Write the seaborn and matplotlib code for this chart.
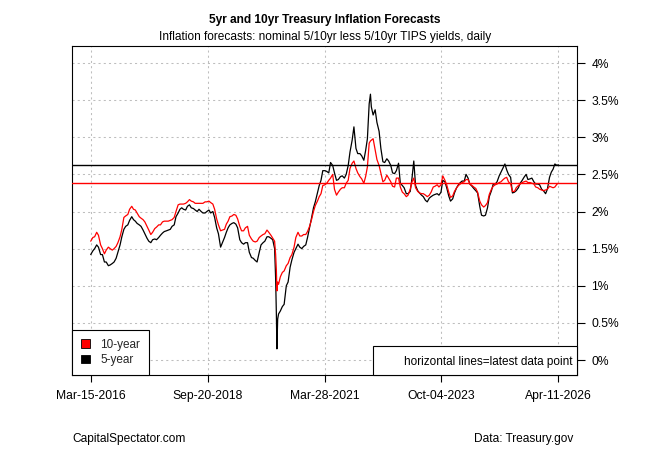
import numpy as np
import pandas as pd
import matplotlib
matplotlib.use("Agg")
import matplotlib.pyplot as plt
import matplotlib.dates as mdates
from matplotlib.patches import Patch, Rectangle
import seaborn as sns

# ---------------- data ----------------
start_date = "2016-03-15"
end_date = "2026-04-11"

# readings on the 15th of each month, Mar-2016 .. Mar-2026 (121 values)
ten_year_mid = [
    1.60, 1.66, 1.68, 1.50, 1.48, 1.50, 1.50, 1.58, 1.76, 1.94,
    2.03, 2.03, 1.98, 1.91, 1.86, 1.75, 1.72, 1.79, 1.82, 1.87,
    1.87, 1.89, 2.00, 2.10, 2.10, 2.13, 2.14, 2.11, 2.11, 2.11,
    2.13, 2.12, 2.03, 1.82, 1.75, 1.83, 1.93, 1.96, 1.90, 1.74,
    1.78, 1.68, 1.60, 1.60, 1.67, 1.70, 1.72, 1.64, 1.20, 1.12,
    1.20, 1.30, 1.42, 1.65, 1.67, 1.69, 1.73, 1.88, 2.08, 2.20,
    2.35, 2.38, 2.45, 2.30, 2.26, 2.32, 2.38, 2.58, 2.68, 2.52,
    2.44, 2.47, 2.92, 2.98, 2.70, 2.52, 2.42, 2.45, 2.34, 2.45,
    2.33, 2.24, 2.22, 2.40, 2.32, 2.25, 2.24, 2.20, 2.26, 2.34,
    2.33, 2.48, 2.36, 2.19, 2.27, 2.35, 2.39, 2.43, 2.37, 2.33,
    2.26, 2.09, 2.08, 2.23, 2.34, 2.37, 2.40, 2.45, 2.40, 2.27,
    2.32, 2.37, 2.40, 2.39, 2.38, 2.33, 2.30, 2.28, 2.30, 2.33,
    2.33,
]
five_year_mid = [
    1.42, 1.50, 1.52, 1.42, 1.32, 1.28, 1.32, 1.45, 1.66, 1.80,
    1.88, 1.89, 1.84, 1.80, 1.70, 1.60, 1.62, 1.62, 1.68, 1.73,
    1.75, 1.80, 1.93, 2.03, 2.03, 2.07, 2.05, 2.02, 2.03, 1.98,
    2.00, 1.98, 1.92, 1.70, 1.58, 1.72, 1.82, 1.85, 1.78, 1.58,
    1.58, 1.45, 1.37, 1.32, 1.55, 1.60, 1.66, 1.62, 0.60, 0.66,
    0.75, 1.05, 1.35, 1.50, 1.52, 1.53, 1.65, 1.90, 2.13, 2.35,
    2.55, 2.54, 2.66, 2.52, 2.43, 2.48, 2.50, 2.80, 3.14, 2.78,
    2.75, 2.82, 3.45, 3.30, 3.20, 2.85, 2.66, 2.68, 2.52, 2.55,
    2.38, 2.32, 2.24, 2.45, 2.35, 2.25, 2.20, 2.13, 2.20, 2.23,
    2.22, 2.42, 2.32, 2.14, 2.25, 2.36, 2.41, 2.50, 2.37, 2.31,
    2.25, 1.95, 1.95, 2.20, 2.37, 2.40, 2.53, 2.64, 2.50, 2.25,
    2.28, 2.38, 2.46, 2.43, 2.45, 2.37, 2.36, 2.28, 2.30, 2.53,
    2.64,
]

# readings on the 1st of each month, Apr-2016 .. Apr-2026 (121 values)
ten_year_first = [
    1.65, 1.72, 1.55, 1.43, 1.52, 1.48, 1.53, 1.66, 1.92, 1.96,
    2.07, 2.02, 1.93, 1.89, 1.80, 1.69, 1.77, 1.82, 1.86, 1.87,
    1.88, 1.92, 2.09, 2.10, 2.11, 2.16, 2.13, 2.11, 2.11, 2.13,
    2.14, 2.10, 1.90, 1.74, 1.76, 1.87, 1.94, 1.95, 1.80, 1.74,
    1.80, 1.63, 1.59, 1.65, 1.69, 1.75, 1.68, 1.60, 1.02, 1.18,
    1.27, 1.38, 1.52, 1.72, 1.67, 1.69, 1.80, 2.00, 2.14, 2.24,
    2.36, 2.42, 2.50, 2.22, 2.30, 2.32, 2.42, 2.65, 2.58, 2.47,
    2.38, 2.60, 2.96, 2.83, 2.62, 2.40, 2.49, 2.40, 2.33, 2.45,
    2.26, 2.20, 2.30, 2.45, 2.27, 2.24, 2.22, 2.22, 2.33, 2.36,
    2.36, 2.42, 2.26, 2.21, 2.32, 2.37, 2.40, 2.43, 2.35, 2.31,
    2.14, 2.06, 2.12, 2.30, 2.36, 2.39, 2.43, 2.46, 2.37, 2.27,
    2.35, 2.39, 2.41, 2.39, 2.37, 2.32, 2.29, 2.29, 2.34, 2.32,
    2.37,
]
five_year_first = [
    1.47, 1.55, 1.42, 1.32, 1.27, 1.30, 1.37, 1.55, 1.76, 1.82,
    1.93, 1.87, 1.82, 1.75, 1.64, 1.58, 1.63, 1.65, 1.71, 1.74,
    1.76, 1.82, 1.98, 2.05, 2.02, 2.09, 2.04, 2.00, 2.00, 1.98,
    2.02, 2.00, 1.78, 1.52, 1.65, 1.78, 1.84, 1.83, 1.62, 1.56,
    1.58, 1.38, 1.34, 1.45, 1.58, 1.66, 1.64, 1.50, 0.62, 0.72,
    1.00, 1.25, 1.45, 1.56, 1.50, 1.55, 1.78, 2.05, 2.25, 2.42,
    2.55, 2.52, 2.62, 2.42, 2.47, 2.45, 2.62, 2.96, 2.85, 2.78,
    2.69, 2.98, 3.41, 3.37, 3.08, 2.67, 2.71, 2.62, 2.51, 2.65,
    2.35, 2.24, 2.27, 2.68, 2.28, 2.22, 2.15, 2.18, 2.22, 2.24,
    2.26, 2.40, 2.21, 2.17, 2.32, 2.39, 2.41, 2.45, 2.34, 2.28,
    2.07, 1.94, 2.05, 2.28, 2.37, 2.48, 2.59, 2.56, 2.46, 2.26,
    2.32, 2.42, 2.50, 2.44, 2.40, 2.37, 2.30, 2.24, 2.46, 2.57,
    2.62,
]

# extra readings at sharp turning points and the latest data point
extra_dates = ["2020-03-09", "2020-03-19", "2020-03-25", "2022-03-25", end_date]
extra_ten = [1.42, 0.93, 1.05, 2.95, 2.38]
extra_five = [1.10, 0.15, 0.55, 3.58, 2.63]

x_tick_labels = ["Mar-15-2016", "Sep-20-2018", "Mar-28-2021", "Oct-04-2023", "Apr-11-2026"]
y_ticks = [0, 0.5, 1, 1.5, 2, 2.5, 3, 3.5, 4]
y_tick_labels = ["0%", "0.5%", "1%", "1.5%", "2%", "2.5%", "3%", "3.5%", "4%"]

title = "5yr and 10yr Treasury Inflation Forecasts"
subtitle = "Inflation forecasts: nominal 5/10yr less 5/10yr TIPS yields, daily"

# ---------------- build table ----------------
mid_dates = pd.date_range(start_date, periods=len(ten_year_mid),
                          freq=pd.DateOffset(months=1))
first_dates = pd.date_range("2016-04-01", periods=len(ten_year_first), freq="MS")
df = pd.concat([
    pd.DataFrame({"date": mid_dates, "ten": ten_year_mid, "five": five_year_mid}),
    pd.DataFrame({"date": first_dates, "ten": ten_year_first, "five": five_year_first}),
    pd.DataFrame({"date": pd.to_datetime(extra_dates), "ten": extra_ten, "five": extra_five}),
]).sort_values("date").reset_index(drop=True)

# ---------------- style ----------------
sns.set_theme(style="white")
plt.rcParams["font.family"] = ["Liberation Sans", "DejaVu Sans"]
plt.rcParams["axes.edgecolor"] = "black"
plt.rcParams["axes.linewidth"] = 0.8

fig = plt.figure(figsize=(6.5, 4.5), dpi=100)
fig.patch.set_facecolor("white")
ax = fig.add_axes([72 / 650, 1 - 375 / 450, 505 / 650, 329 / 450])

sns.lineplot(data=df, x="date", y="five", color="black", lw=0.9, ax=ax,
             legend=False, zorder=3)
sns.lineplot(data=df, x="date", y="ten", color="red", lw=0.9, ax=ax,
             legend=False, zorder=4)

last_five = df["five"].iloc[-1]
last_ten = df["ten"].iloc[-1]
ax.axhline(last_five, color="black", lw=1.0, zorder=5)
ax.axhline(last_ten, color="#FF0000", lw=1.0, zorder=5)

# x axis
d0 = mdates.date2num(pd.Timestamp(start_date))
d1 = mdates.date2num(pd.Timestamp(end_date))
span = d1 - d0
ax.set_xlim(d0 - 0.04 * span, d1 + 0.04 * span)
ax.set_xticks(np.linspace(d0, d1, len(x_tick_labels)))
ax.set_xticklabels(x_tick_labels)

# y axis on the right
ax.set_ylim(-0.202, 4.229)
ax.yaxis.tick_right()
ax.set_yticks(y_ticks)
ax.set_yticklabels(y_tick_labels)
ax.set_xlabel("")
ax.set_ylabel("")

ax.tick_params(axis="x", direction="out", length=5.2, width=0.8, pad=5.5,
               labelsize=8.7, colors="black", bottom=True)
ax.tick_params(axis="y", direction="out", length=5.8, width=0.8, pad=4.5,
               labelsize=8.7, colors="black", right=True, left=False)
for s in ax.spines.values():
    s.set_visible(True)
    s.set_color("black")
    s.set_linewidth(0.8)

ax.grid(True, color="#BEBEBE", linestyle=(0, (2, 3)), lw=0.75, zorder=0)
ax.set_axisbelow(True)

# legend (bottom-left)
handles = [Patch(facecolor="red", edgecolor="black", lw=0.6),
           Patch(facecolor="black", edgecolor="black", lw=0.6)]
leg = ax.legend(handles, ["10-year", "5-year"], loc="lower left",
                bbox_to_anchor=(0, 0), borderaxespad=0, frameon=True,
                fancybox=False, edgecolor="black", framealpha=1, fontsize=8.5,
                handlelength=0.75, handleheight=0.75, handletextpad=0.9,
                borderpad=0.75, labelspacing=0.3)
leg.get_frame().set_linewidth(0.8)
leg.set_zorder(10)

# note box (bottom-right)
bx0 = (373.3 - 72) / 505
ax.add_patch(Rectangle((bx0, 0), 1 - bx0, (375 - 346) / 329, transform=ax.transAxes,
                       facecolor="white", edgecolor="black", lw=0.8, zorder=9,
                       clip_on=False))
ax.text((572.3 - 72) / 505, (375 - 361.7) / 329, "horizontal lines=latest data point",
        transform=ax.transAxes, ha="right", va="center", fontsize=8.5,
        color="black", zorder=11)

# titles and captions
fig.text(325 / 650, 1 - 19.5 / 450, title, ha="center", va="center",
         fontsize=8.6, fontweight="bold", color="black")
fig.text(325 / 650, 1 - 36.7 / 450, subtitle, ha="center", va="center",
         fontsize=8.6, color="black")
fig.text(72.3 / 650, 1 - 439 / 450, "CapitalSpectator.com", ha="left", va="center",
         fontsize=8.6, color="black")
fig.text(573.3 / 650, 1 - 439 / 450, "Data: Treasury.gov", ha="right", va="center",
         fontsize=8.6, color="black")

fig.savefig("out.png", dpi=100, facecolor="white")
